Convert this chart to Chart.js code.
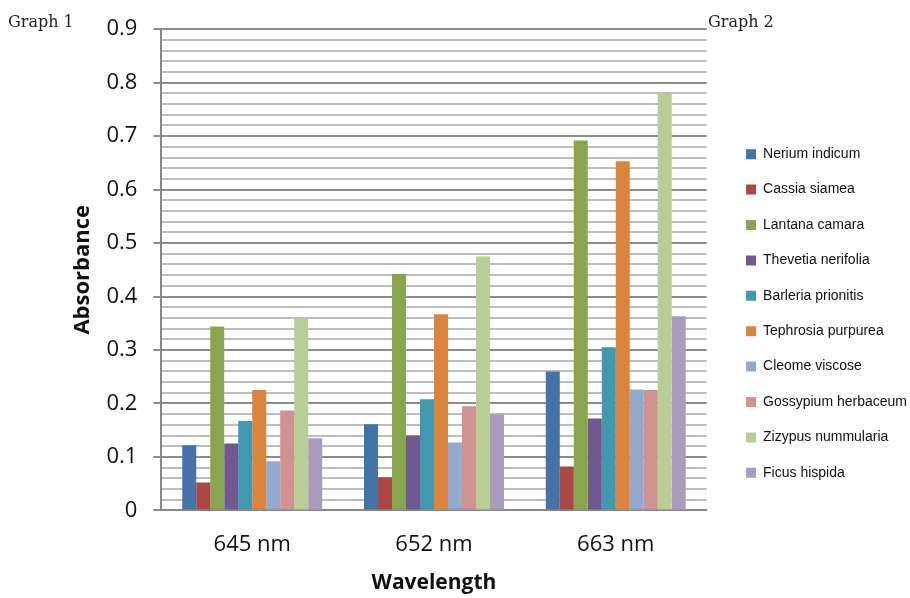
<!DOCTYPE html>
<html>
<head>
<meta charset="utf-8">
<script src="https://cdn.jsdelivr.net/npm/chart.js"></script>
<style>
  body { margin: 0; background: #fff; }
  #wrap { position: relative; width: 910px; height: 598px; }
  .tag { position: absolute; font-family: "DejaVu Serif", serif; font-size: 16px; color: #222; }
</style>
</head>
<body>
<div id="wrap">
  <canvas id="absChart" width="910" height="598"></canvas>
  <span class="tag" style="left:8px; top:12px;">Graph 1</span>
  <span class="tag" style="left:708px; top:12px;">Graph 2</span>
</div>
<script>
// wavelengths on x axis
const wavelengths = ['645 nm', '652 nm', '663 nm'];

// one array per plant, values at 645 / 652 / 663 nm
const nerium     = [0.122, 0.161, 0.260];
const cassia     = [0.052, 0.062, 0.082];
const lantana    = [0.344, 0.442, 0.692];
const thevetia   = [0.125, 0.140, 0.172];
const barleria   = [0.167, 0.208, 0.305];
const tephrosia  = [0.225, 0.367, 0.653];
const cleome     = [0.092, 0.127, 0.226];
const gossypium  = [0.187, 0.195, 0.225];
const zizyphus   = [0.359, 0.475, 0.782];
const ficus      = [0.135, 0.180, 0.363];

const plantNames = ['Nerium indicum', 'Cassia siamea', 'Lantana camara', 'Thevetia nerifolia',
  'Barleria prionitis', 'Tephrosia purpurea', 'Cleome viscose', 'Gossypium herbaceum',
  'Zizypus nummularia', 'Ficus hispida'];
const plantValues = [nerium, cassia, lantana, thevetia, barleria, tephrosia, cleome, gossypium, zizyphus, ficus];
const plantColors = ['#4572A7', '#AA4643', '#89A54E', '#71588F', '#4198AF',
  '#DB843D', '#93A9CF', '#D19392', '#B9CD96', '#A99BBD'];

const yMin = 0, yMax = 0.9, yStep = 0.02;

var datasets = plantNames.map((name, i) => ({
  label: name,
  data: plantValues[i],
  backgroundColor: plantColors[i],
  borderWidth: 0,
  barPercentage: 1.0,
  categoryPercentage: 0.77
}));

function isMajor(v) {
  return Math.round(v * 100) % 10 === 0;
}

// push the legend a bit to the right of the plot, like the excel one
const legendShift = {
  id: 'legendShift',
  afterLayout(chart) {
    if (chart.legend) {
      chart.legend.left += 18;
      chart.legend.right += 18;
      chart.legend.top += 3;
      chart.legend.bottom += 3;
    }
  }
};

var ctx = document.getElementById('absChart').getContext('2d');
var chart = new Chart(ctx, {
  type: 'bar',
  data: { labels: wavelengths, datasets: datasets },
  plugins: [legendShift],
  options: {
    responsive: false,
    animation: false,
    layout: { padding: { top: 23, left: 66, right: 11, bottom: 0 } },
    plugins: {
      tooltip: { enabled: false },
      legend: {
        position: 'right',
        labels: {
          boxWidth: 10,
          boxHeight: 10,
          padding: 21.4,
          color: '#111',
          font: { family: 'Liberation Sans', size: 14 }
        }
      }
    },
    scales: {
      x: {
        grid: { display: false },
        border: { color: '#888', width: 2 },
        ticks: { color: '#111', padding: 13, font: { family: 'Open Sans', size: 22 } },
        title: {
          display: true, text: 'Wavelength', color: '#111',
          font: { family: 'Open Sans', size: 21, weight: 'bold' }, padding: { top: 0, bottom: 2 }
        }
      },
      y: {
        min: yMin,
        max: yMax,
        border: { color: '#888', width: 2 },
        grid: {
          color: (c) => isMajor(c.tick.value) ? '#8c8c8c' : '#bdbdbd',
          lineWidth: 2,
          tickColor: (c) => isMajor(c.tick.value) ? '#8c8c8c' : 'rgba(0,0,0,0)',
          tickLength: 8
        },
        ticks: {
          stepSize: yStep,
          autoSkip: false,
          padding: 16,
          color: '#111',
          font: { family: 'Open Sans', size: 22 },
          callback: (v) => isMajor(v) ? String(Math.round(v * 10) / 10) : ''
        },
        title: {
          display: true, text: 'Absorbance', color: '#111',
          font: { family: 'Open Sans', size: 22, weight: 'bold' }, padding: { top: 4, bottom: -6 }
        }
      }
    }
  }
});
</script>
</body>
</html>
